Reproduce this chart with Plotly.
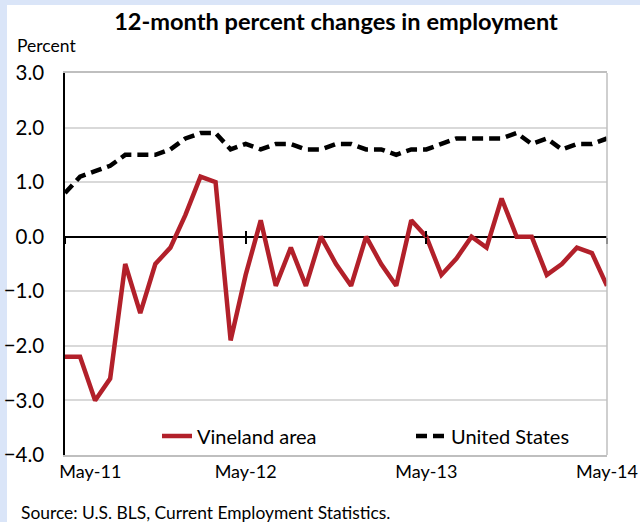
import plotly.graph_objects as go

months = list(range(37))
tick_vals = [0, 12, 24, 36]
tick_text = ["\u00a0" * 11 + "May-11", "May-12", "May-13", "May-14"]

vineland = [-2.2, -2.2, -3.0, -2.6, -0.5, -1.4, -0.5, -0.2, 0.4, 1.1, 1.0, -1.9,
            -0.7, 0.3, -0.9, -0.2, -0.9, 0.0, -0.5, -0.9, 0.0, -0.5, -0.9, 0.3,
            0.0, -0.7, -0.4, 0.0, -0.2, 0.7, 0.0, 0.0, -0.7, -0.5, -0.2, -0.3, -0.9]
us = [0.8, 1.1, 1.2, 1.3, 1.5, 1.5, 1.5, 1.6, 1.8, 1.9, 1.9, 1.6,
      1.7, 1.6, 1.7, 1.7, 1.6, 1.6, 1.7, 1.7, 1.6, 1.6, 1.5, 1.6,
      1.6, 1.7, 1.8, 1.8, 1.8, 1.8, 1.9, 1.7, 1.8, 1.6, 1.7, 1.7, 1.8]

y_ticks = [3, 2, 1, 0, -1, -2, -3, -4]

FONT = "Lato"
RED = "#B2202A"
BLUE = "#DAE5F8"
W, H = 640, 522
ML, MR, MT, MB = 65, 33, 73, 67
PW = W - ML - MR
PH = H - MT - MB


def px_x(p):
    return (p - ML) / PW


def px_y(p):
    return (H - MB - p) / PH


fig = go.Figure()
fig.add_trace(go.Scatter(x=months, y=vineland, mode="lines", name="Vineland area",
                         line=dict(color=RED, width=4.5), legend="legend"))
fig.add_trace(go.Scatter(x=months, y=us, mode="lines", name="United States",
                         line=dict(color="black", width=4.5, dash="11px,6px"),
                         legend="legend2"))

leg_common = dict(orientation="h", xanchor="left", yanchor="middle",
                  bgcolor="rgba(0,0,0,0)", font=dict(family=FONT, size=20))

fig.update_layout(
    width=W, height=H,
    margin=dict(l=ML, r=MR, t=MT, b=MB, autoexpand=False),
    paper_bgcolor=BLUE,
    plot_bgcolor="white",
    font=dict(family=FONT, color="black", size=18),
    title=dict(text="<b>12-month percent changes in employment</b>",
               x=0.5, xref="paper", xanchor="center",
               y=1 - 22 / H, yref="container", yanchor="middle",
               font=dict(family=FONT, size=23.6, color="black")),
    showlegend=True,
    legend=dict(x=px_x(157), y=px_y(436), **leg_common),
    legend2=dict(x=px_x(411), y=px_y(436), **leg_common),
    xaxis=dict(range=[0, 36], tickvals=tick_vals, ticktext=tick_text, automargin=False,
               showgrid=False, zeroline=False, showline=True, linecolor="#BFBFBF",
               linewidth=1.5, mirror=True, ticks="", tickfont=dict(size=18)),
    xaxis2=dict(range=[0, 36], overlaying="x", anchor="free", position=4 / 7,
                tickvals=tick_vals, showticklabels=False, showline=False, automargin=False,
                showgrid=False, zeroline=False, ticks="outside", ticklen=6,
                tickwidth=1.5, tickcolor="black"),
    xaxis3=dict(range=[0, 36], overlaying="x", anchor="free", position=4 / 7,
                tickvals=tick_vals, showticklabels=False, showline=False, automargin=False,
                showgrid=False, zeroline=False, ticks="inside", ticklen=6,
                tickwidth=1.5, tickcolor="black"),
    yaxis=dict(range=[-4, 3], tickvals=y_ticks, tickformat=".1f", automargin=False,
               showgrid=True, gridcolor="#D9D9D9", gridwidth=1.5,
               zeroline=True, zerolinecolor="black", zerolinewidth=1.5,
               showline=True, linecolor="black", linewidth=1.5,
               ticks="", ticklabelstandoff=15, tickfont=dict(size=20.5)),
)

# invisible traces to activate the tick-mark axes
fig.add_trace(go.Scatter(x=[0, 36], y=[0, 0], xaxis="x2", mode="none",
                         showlegend=False, hoverinfo="skip"))
fig.add_trace(go.Scatter(x=[0, 36], y=[0, 0], xaxis="x3", mode="none",
                         showlegend=False, hoverinfo="skip"))

# white panel over light-blue frame, right border of plot
fig.add_shape(type="rect", xref="paper", yref="paper", layer="below",
              x0=px_x(7), x1=px_x(W + 5), y0=px_y(H + 5), y1=px_y(5),
              fillcolor="white", line=dict(width=0))
fig.add_shape(type="line", xref="paper", yref="paper", x0=1, x1=1, y0=0, y1=1,
              line=dict(color="#BFBFBF", width=1.5))

fig.add_annotation(text="Percent", xref="paper", yref="paper", x=px_x(15), y=px_y(45),
                   xanchor="left", yanchor="middle", showarrow=False,
                   font=dict(family=FONT, size=17.5))
fig.add_annotation(text="Source: U.S. BLS, Current Employment Statistics.", xref="paper",
                   yref="paper", x=px_x(19), y=px_y(512), xanchor="left", yanchor="middle",
                   showarrow=False, font=dict(family=FONT, size=17.4))

fig.write_html(
    "out.html",
    config={"displayModeBar": False},
    post_script="document.body.style.margin='0';document.body.style.overflow='hidden';",
)
